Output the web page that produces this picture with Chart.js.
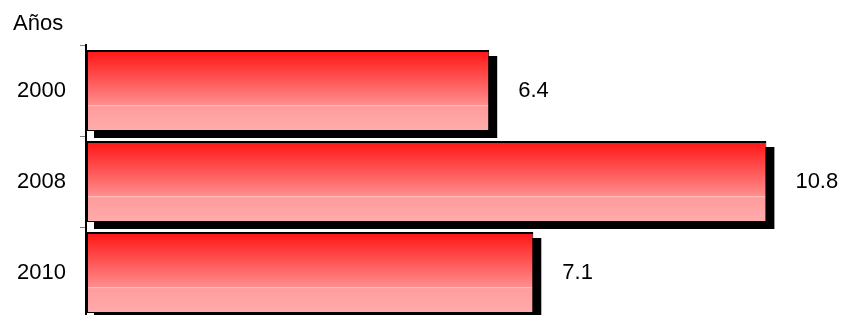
<!DOCTYPE html>
<html>
<head>
<meta charset="utf-8">
<title>Años</title>
<script src="https://cdn.jsdelivr.net/npm/chart.js@4.4.1/dist/chart.umd.min.js"></script>
<style>
    html, body { margin: 0; padding: 0; background: #fff; overflow: hidden; }
    #wrap { width: 842px; height: 315px; overflow: hidden; }
</style>
</head>
<body>
<div id="wrap">
    <canvas id="chart" width="842" height="330" style="width:842px;height:330px"></canvas>
</div>
<script>
// Chart data
const years = ['2000', '2008', '2010'];
const values = [6.4, 10.8, 7.1];
const axisTitle = 'Años';

const FONT = 'Liberation Sans, Arial, sans-serif';
Chart.defaults.font.family = FONT;
Chart.defaults.color = '#000';

// Vertical red-to-pink gradient, one per bar, placed with the category scale
function barGradient(ctx) {
    const chart = ctx.chart;
    const y = chart.scales.y;
    if (!y || !chart.chartArea) return '#ff5050';
    const top = y.getPixelForValue(ctx.dataIndex - 0.445);
    const bottom = y.getPixelForValue(ctx.dataIndex + 0.445);
    const g = chart.ctx.createLinearGradient(0, top, 0, bottom);
    g.addColorStop(0, '#ff1414');
    g.addColorStop(0.35, '#ff5252');
    g.addColorStop(0.68, '#ff8e8e');
    g.addColorStop(0.685, '#ffbdbd');
    g.addColorStop(0.70, '#ff9c9c');
    g.addColorStop(1, '#ffacac');
    return g;
}

// Solid black drop shadow behind every bar
const barShadow = {
    id: 'barShadow',
    beforeDatasetsDraw(chart) {
        const ctx = chart.ctx;
        ctx.save();
        ctx.fillStyle = '#000';
        chart.getDatasetMeta(0).data.forEach(bar => {
            const h = bar.height;
            ctx.fillRect(bar.base + 8, bar.y - h / 2 + 6, bar.x - bar.base, h + 1);
        });
        ctx.restore();
    }
};

// Value labels to the right of each bar
const valueLabels = {
    id: 'valueLabels',
    afterDatasetsDraw(chart) {
        const ctx = chart.ctx;
        ctx.save();
        ctx.font = '22px ' + FONT;
        ctx.fillStyle = '#000';
        ctx.textAlign = 'left';
        ctx.textBaseline = 'middle';
        chart.getDatasetMeta(0).data.forEach((bar, i) => {
            ctx.fillText(String(values[i]), bar.x + 29, bar.y);
        });
        ctx.restore();
    }
};

new Chart(document.getElementById('chart'), {
    type: 'bar',
    data: {
        labels: years,
        datasets: [{
            data: values,
            backgroundColor: barGradient,
            borderColor: '#000',
            borderWidth: { top: 2, left: 2, right: 1, bottom: 1 },
            borderSkipped: false,
            categoryPercentage: 1,
            barPercentage: 0.89
        }]
    },
    options: {
        indexAxis: 'y',
        responsive: false,
        animation: false,
        devicePixelRatio: 1,
        layout: { padding: { left: 13, right: 0, top: 0, bottom: 12 } },
        plugins: {
            legend: { display: false },
            tooltip: { enabled: false },
            title: {
                display: true,
                text: axisTitle,
                align: 'start',
                color: '#000',
                font: { size: 22, weight: 'normal' },
                padding: { top: 11, bottom: 7.6 }
            }
        },
        scales: {
            x: { display: false, min: 0, max: 12 },
            y: {
                afterFit(scale) {
                    scale.width = 73;
                    scale.paddingTop = 0;
                    scale.paddingBottom = 0;
                },
                grid: {
                    offset: true,
                    drawOnChartArea: false,
                    color: '#808080',
                    tickLength: 6,
                    lineWidth: 1
                },
                border: { color: '#000', width: 2 },
                ticks: { color: '#000', padding: 14, font: { size: 22 } }
            }
        }
    },
    plugins: [barShadow, valueLabels]
});
</script>
</body>
</html>
